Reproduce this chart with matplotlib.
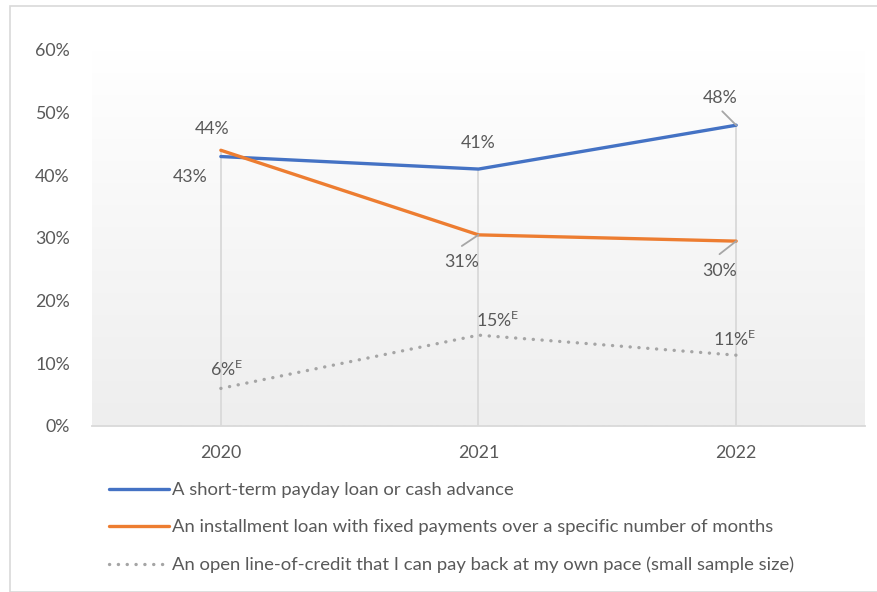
import numpy as np
import matplotlib
matplotlib.use("Agg")
import matplotlib.pyplot as plt
from matplotlib.patches import Rectangle
from matplotlib.colors import LinearSegmentedColormap

plt.rcParams["font.family"] = ["Lato", "DejaVu Sans"]
plt.rcParams["mathtext.fontset"] = "custom"
plt.rcParams["mathtext.rm"] = "Lato"

anos = ["2020", "2021", "2022"]
payday = [0.43, 0.41, 0.48]
installment = [0.44, 0.305, 0.295]
linea = [0.06, 0.145, 0.113]
E = r"$^{\mathregular{E}}$"
et_payday = ["43%", "41%", "48%"]
et_installment = ["44%", "31%", "30%"]
et_linea = ["6%" + E, "15%" + E, "11%" + E]
leyenda = ["A short-term payday loan or cash advance",
           "An installment loan with fixed payments over a specific number of months",
           "An open line-of-credit that I can pay back at my own pace (small sample size)"]

AZUL, NARANJA, GRIS, TXT = "#4472C4", "#ED7D31", "#A5A5A5", "#595959"

fig = plt.figure(figsize=(8.78, 5.92), dpi=100)
fig.patches.append(Rectangle((10 / 878, 0), 1, 1 - 6 / 592, transform=fig.transFigure,
                             fill=False, edgecolor="#d9d9d9", lw=1.2))
ax = fig.add_axes([92 / 878, 166 / 592, 773 / 878, 376 / 592])

# fondo degradado blanco -> gris claro
grad = np.linspace(0, 1, 256).reshape(-1, 1)
ax.imshow(grad, extent=[-0.5, 2.5, 0, 0.6], aspect="auto",
          cmap=LinearSegmentedColormap.from_list("g", ["#ffffff", "#eeeeee"]),
          origin="upper", zorder=0)

x = np.arange(len(anos))
tope = np.maximum(np.maximum(payday, installment), linea)
ax.vlines(x, 0, tope, color="#d9d9d9", lw=1.3, zorder=1)

l1, = ax.plot(x, payday, color=AZUL, lw=2.4, solid_capstyle="round", zorder=3)
l2, = ax.plot(x, installment, color=NARANJA, lw=2.4, solid_capstyle="round", zorder=3)
l3, = ax.plot(x, linea, color=GRIS, lw=2.4, linestyle=(0, (0.05, 2.6)), dash_capstyle="round", zorder=3)

fs = 12.8
kw = dict(color=TXT, fontsize=fs, ha="center", va="center", textcoords="offset points")
flecha = dict(arrowstyle="-", color="#a6a6a6", lw=1.3, shrinkA=0, shrinkB=0)
# payday
ax.annotate(et_payday[0], (0, payday[0]), xytext=(-22, -15), **kw)
ax.annotate(et_payday[1], (1, payday[1]), xytext=(0, 19), **kw)
ax.annotate(et_payday[2], (2, payday[2]), xytext=(-11.5, 19.5), **kw)
ax.annotate("", (2, payday[2]), xytext=(-10, 10), textcoords="offset points", arrowprops=flecha)
# installment
ax.annotate(et_installment[0], (0, installment[0]), xytext=(-6, 15), **kw)
ax.annotate(et_installment[1], (1, installment[1]), xytext=(-12, -19.5), **kw)
ax.annotate("", (1, installment[1]), xytext=(-12, -8), textcoords="offset points", arrowprops=flecha)
ax.annotate(et_installment[2], (2, installment[2]), xytext=(-12, -21.5), **kw)
ax.annotate("", (2, installment[2]), xytext=(-12, -9.4), textcoords="offset points", arrowprops=flecha)
# linea de credito
ax.annotate(et_linea[0], (0, linea[0]), xytext=(4, 14), **kw)
ax.annotate(et_linea[1], (1, linea[1]), xytext=(14, 11), **kw)
ax.annotate(et_linea[2], (2, linea[2]), xytext=(-1, 12), **kw)

ax.set_xlim(-0.5, 2.5)
ax.set_ylim(0, 0.6)
ax.set_xticks(x)
ax.set_xticklabels(anos)
ax.set_yticks(np.arange(0, 0.61, 0.1))
ax.set_yticklabels([f"{v}%" for v in range(0, 61, 10)])
ax.tick_params(length=0, labelsize=fs, labelcolor=TXT)
ax.tick_params(axis="x", pad=14)
ax.tick_params(axis="y", pad=16)
for s in ["top", "right", "left"]:
    ax.spines[s].set_visible(False)
ax.spines["bottom"].set_color("#d9d9d9")
ax.spines["bottom"].set_linewidth(1.3)

fig.legend([l1, l2, l3], leyenda, loc="upper left", bbox_to_anchor=(109 / 878, 1 - 482 / 592),
           frameon=False, fontsize=13.3, labelcolor=TXT, handlelength=3.25, handletextpad=0.15,
           labelspacing=1.15, borderpad=0, borderaxespad=0)

fig.savefig("out.png", dpi=100)
